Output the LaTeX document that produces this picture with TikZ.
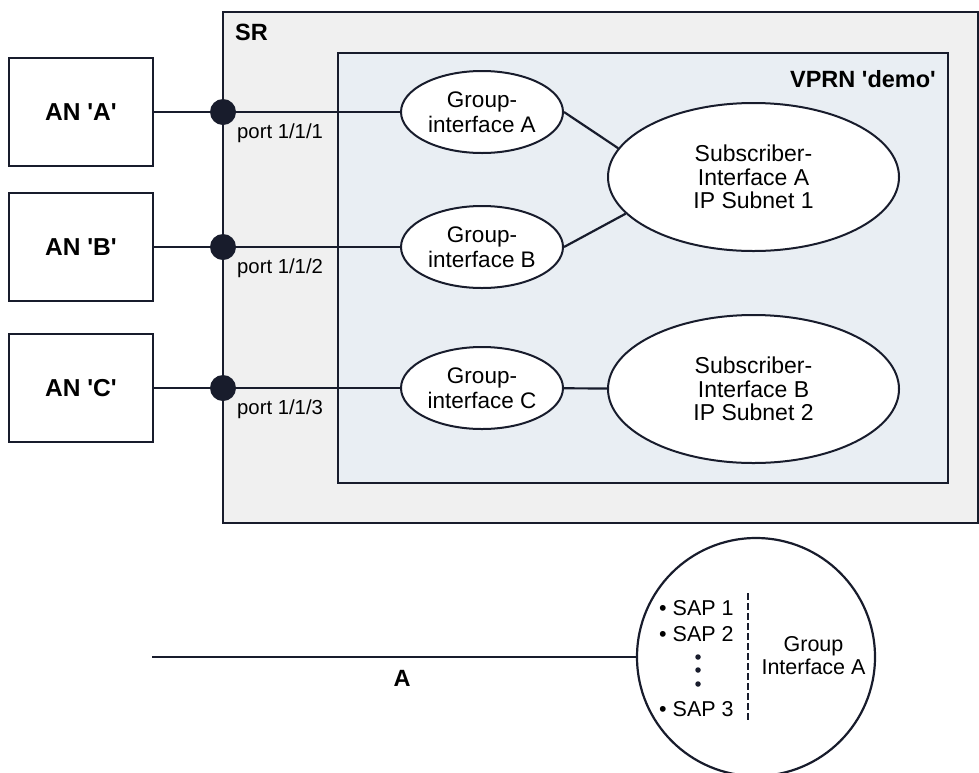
\documentclass[tikz,border=0pt]{standalone}
\usepackage{fontspec}
\setmainfont{Liberation Sans}[Ligatures=TeXOff]
\usetikzlibrary{positioning}
\usetikzlibrary{shapes.geometric}
\definecolor{ink}{HTML}{181C2C}
\definecolor{srgray}{HTML}{F0F0F0}
\definecolor{vprnblue}{HTML}{E9EEF3}
\tikzstyle{srbox}=[draw=ink,line width=2.2pt,fill=srgray]
\tikzstyle{vprnbox}=[draw=ink,line width=2pt,fill=vprnblue]
\tikzstyle{title}=[inner sep=0pt,font=\fontsize{23.5}{26}\selectfont\bfseries]
\tikzstyle{anbox}=[draw=ink,line width=2pt,fill=white,minimum width=144pt,minimum height=108pt,inner sep=0pt,font=\fontsize{24.5}{26}\selectfont\bfseries]
\tikzstyle{portdot}=[circle,fill=ink,minimum size=26pt,inner sep=0pt]
\tikzstyle{portlabel}=[anchor=base west,inner sep=0pt,font=\fontsize{20.3}{22}\selectfont]
\tikzstyle{groupif}=[ellipse,draw=ink,line width=2pt,fill=white,minimum width=162pt,minimum height=82pt,inner sep=0pt,align=center,font=\fontsize{22.5}{24.5}\selectfont]
\tikzstyle{subif}=[ellipse,draw=ink,line width=2pt,fill=white,minimum width=291pt,minimum height=148pt,inner sep=0pt,align=center,font=\fontsize{23}{23.5}\selectfont]
\tikzstyle{link} = [draw=ink,line width=2.2pt]
\tikzstyle{sapcircle}=[circle,draw=ink,line width=2.2pt,fill=white,minimum size=238pt,inner sep=0pt]
\tikzstyle{saptext}=[anchor=base west,inner sep=0pt,font=\fontsize{21.5}{24}\selectfont]
\tikzstyle{vdot}=[circle,fill=ink,minimum size=5.5pt,inner sep=0pt]
\tikzstyle{splitline}=[draw=ink,line width=2.6pt,dash pattern=on 6.5pt off 3.5pt]

\begin{document}
\begin{tikzpicture}[x=1pt,y=-1pt]
    \useasboundingbox (0,0) rectangle (979,772);
    % SR and the VPRN inside it
    \draw[srbox] (223,12) rectangle (978,523);
    \draw[vprnbox] (338,53) rectangle (948,483);
    \node[title, anchor=base west] (srname) at (235,40) {SR};
    \node[title, anchor=base east] (vprnname) at (936,87) {VPRN 'demo'};

    % First the access nodes, ports and group interfaces
    \foreach \y/\name/\num in {112/A/1, 247/B/2, 388/C/3} {
        \node[anbox] (an\name) at (81,\y) {AN '\name'};
        \node[portdot] (p\name) at (223,\y) {};
        \node[portlabel] (lbl\name) at (237,\y+26) {port 1/1/\num};
        \node[groupif] (g\name) at (482,\y) {Group-\\interface \name};
    }

    % subscriber interfaces
    \node[subif] (sA) at (753.5,177) {Subscriber-\\Interface A\\IP Subnet 1};
    \node[subif] (sB) at (753.5,389) {Subscriber-\\Interface B\\IP Subnet 2};

    % Connect them
    \foreach \name in {A,B,C} {
        \path[link] (an\name) -- (p\name);
        \path[link] (p\name) -- (g\name);
    }
    \path[link] (gA.east) -- (sA.168);
    \path[link] (gB.east) -- (sA.196);
    \path[link] (gC) -- (sB);

    % zoom on group interface A
    \node[sapcircle] (gifA) at (756,657) {};
    \coordinate (lineA) at (152,657);
    \path[link] (lineA) -- (gifA.west);
    \node[title, anchor=base] (lblA) at (402,686) {A};

    \foreach \y/\name/\label in {615/sap1/SAP 1, 641/sap2/SAP 2, 716/sap3/SAP 3}
        \node[saptext] (\name) at (659,\y) {\textbullet\ \label};
    \foreach \y/\name in {657/vd1, 670/vd2, 684/vd3}
        \node[vdot] (\name) at (698,\y) {};

    \coordinate (dtop) at (748,593);
    \coordinate (dbot) at (748,722);
    \path[splitline] (dtop) -- (dbot);
    \node[align=center, inner sep=0pt, font=\fontsize{21.5}{23}\selectfont] (giftext) at (813.5,656) {Group\\Interface A};
\end{tikzpicture}
\end{document}
